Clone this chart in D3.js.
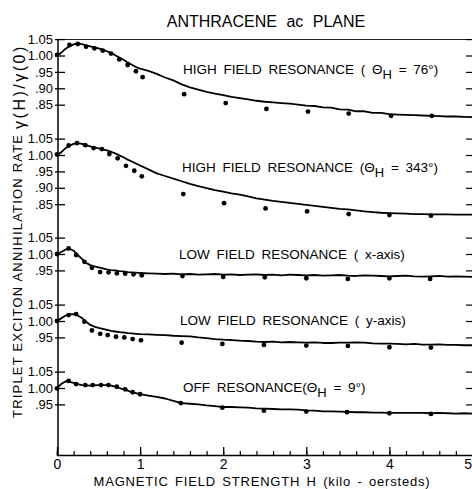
<!DOCTYPE html>
<html>
<head>
<meta charset="utf-8">
<script src="https://d3js.org/d3.v7.min.js"></script>
<style>
  body { margin: 0; background: #fff; }
  svg { display: block; font-family: "Liberation Sans", Arial, sans-serif; }
</style>
</head>
<body>
<svg id="drawing_region"></svg>
<script>
// field strength H (kilo-oersteds) where the traces are read
const fieldH = [0, 0.05, 0.1, 0.15, 0.2, 0.25, 0.3, 0.35, 0.4, 0.45, 0.5, 0.55, 0.6, 0.65, 0.7, 0.75, 0.8, 0.85, 0.9, 0.95, 1.0,
  1.1, 1.2, 1.3, 1.4, 1.5, 1.6, 1.7, 1.8, 1.9, 2.0, 2.1, 2.2, 2.3, 2.4, 2.5, 2.6, 2.7, 2.8, 2.9, 3.0,
  3.1, 3.2, 3.3, 3.4, 3.5, 3.6, 3.7, 3.8, 3.9, 4.0, 4.1, 4.2, 4.3, 4.4, 4.5, 4.6, 4.7, 4.8, 4.9, 5.0];

// measured traces gamma(H)/gamma(0)
const traceHigh76 = [1.000, 1.008, 1.020, 1.028, 1.034, 1.037, 1.035, 1.031, 1.028, 1.025, 1.022, 1.018, 1.013, 1.008, 1.001, .994, .987, .979, .972, .965, .960,
  .953, .944, .933, .924, .912, .903, .896, .889, .884, .879, .874, .870, .866, .862, .859, .857, .855, .853, .850, .847,
  .846, .842, .841, .836, .835, .830, .830, .825, .825, .821, .820, .819, .818, .817, .816, .815, .814, .814, .813, .812];
const traceHigh343 = [1.000, 1.008, 1.020, 1.028, 1.034, 1.036, 1.034, 1.030, 1.026, 1.023, 1.020, 1.017, 1.014, 1.010, 1.005, .999, .993, .986, .980, .974, .968,
  .956, .944, .936, .928, .920, .912, .905, .899, .893, .888, .883, .879, .874, .868, .864, .860, .857, .854, .851, .848,
  .845, .842, .839, .836, .834, .831, .828, .826, .824, .823, .822, .821, .820, .820, .819, .819, .819, .818, .818, .818];
const traceLowX = [1.000, 1.006, 1.013, 1.016, 1.010, .997, .985, .973, .966, .962, .959, .956, .953, .951, .950, .948, .947, .945, .944, .943, .942,
  .941, .940, .939, .940, .938, .939, .937, .938, .939, .937, .938, .936, .937, .938, .936, .937, .935, .937, .936, .935,
  .936, .934, .935, .936, .934, .933, .935, .934, .933, .932, .933, .934, .932, .931, .932, .933, .931, .932, .931, .930];
const traceLowY = [1.000, 1.008, 1.016, 1.020, 1.021, 1.017, 1.009, .998, .988, .983, .979, .976, .973, .970, .968, .966, .965, .963, .962, .961, .960,
  .959, .958, .957, .955, .954, .953, .950, .948, .945, .943, .942, .940, .939, .937, .936, .937, .935, .936, .935, .934,
  .935, .933, .933, .934, .934, .935, .934, .932, .931, .931, .930, .929, .930, .928, .928, .929, .927, .927, .926, .926];
const traceOff9 = [1.000, 1.012, 1.020, 1.019, 1.016, 1.012, 1.009, 1.008, 1.007, 1.008, 1.009, 1.009, 1.009, 1.007, 1.004, 1.000, .996, .992, .987, .984, .981,
  .977, .973, .968, .961, .954, .952, .950, .947, .945, .942, .942, .941, .940, .938, .937, .936, .935, .935, .934, .932,
  .931, .929, .929, .928, .927, .926, .926, .925, .925, .924, .924, .924, .924, .924, .923, .924, .923, .922, .923, .922];

// calculated points
const pointsHigh76H = [0, .15, .25, .35, .45, .55, .65, .75, .85, .95, 1.03, 1.53, 2.03, 2.52, 3.02, 3.51, 4.02, 4.51];
const pointsHigh76 = [1.002, 1.032, 1.035, 1.027, 1.022, 1.015, 1.006, .988, .971, .952, .934, .882, .855, .837, .829, .823, .816, .816];
const pointsHigh343H = [0, .14, .24, .34, .44, .54, .63, .73, .83, .93, 1.02, 1.52, 2.01, 2.51, 3.01, 3.51, 4.00, 4.50];
const pointsHigh343 = [1.002, 1.029, 1.036, 1.030, 1.021, 1.018, 1.003, .990, .967, .952, .935, .881, .853, .837, .828, .820, .817, .815];
const pointsLowXH = [0, .14, .23, .33, .42, .52, .62, .72, .82, .92, 1.02, 1.51, 2.00, 2.50, 3.00, 3.50, 4.00, 4.49];
const pointsLowX = [1.000, 1.017, .997, .976, .958, .945, .944, .941, .940, .938, .935, .933, .930, .929, .926, .924, .926, .924];
const pointsLowYH = [0, .14, .23, .33, .42, .52, .61, .71, .81, .91, 1.01, 1.50, 1.99, 2.49, 3.00, 3.50, 4.00, 4.50];
const pointsLowY = [1.000, 1.018, 1.021, .998, .971, .961, .957, .952, .950, .945, .941, .934, .930, .927, .925, .924, .920, .919];
const pointsOff9H = [0, .14, .23, .34, .43, .53, .62, .72, .82, .91, 1.00, 1.49, 1.99, 2.49, 3.00, 3.49, 4.00, 4.50];
const pointsOff9 = [.999, 1.022, 1.012, 1.009, 1.009, 1.009, 1.009, 1.004, .996, .987, .981, .954, .940, .931, .928, .926, .923, .921];

const panelNames = ["HIGH FIELD RESONANCE ( ", "HIGH FIELD RESONANCE (", "LOW FIELD RESONANCE ( x-axis)", "LOW FIELD RESONANCE ( y-axis)", "OFF RESONANCE("];
const panelAngles = ["76°", "343°", null, null, "9°"];
const panelTicks = [[1.05, 1.00, .95, .90, .85], [1.05, 1.00, .95, .90, .85], [1.05, 1.00, .95], [1.05, 1.00, .95], [1.05, 1.00, .95]];
const fieldTicks = [0, 1, 2, 3, 4, 5];

const panels = [
  { trace: traceHigh76, ptsH: pointsHigh76H, pts: pointsHigh76 },
  { trace: traceHigh343, ptsH: pointsHigh343H, pts: pointsHigh343 },
  { trace: traceLowX, ptsH: pointsLowXH, pts: pointsLowX },
  { trace: traceLowY, ptsH: pointsLowYH, pts: pointsLowY },
  { trace: traceOff9, ptsH: pointsOff9H, pts: pointsOff9 }
].map((p, i) => ({ ...p, name: panelNames[i], angle: panelAngles[i], ticks: panelTicks[i] }));

const config = {
  width: 472, height: 489,
  left: 58, right: 472, top: 40, bottom: 455,
  x0: 57, x5: 472.5,
  base: [55.5, 155, 254, 321, 388],   // pixel row of 1.00 for each trace
  perUnit: 328,
  labelX: [183, 182, 179, 180, 183],
  labelY: [74, 172, 259, 325, 392]
};

const svg = d3.select('#drawing_region')
  .attr('width', config.width)
  .attr('height', config.height);

const x = d3.scaleLinear().domain([0, 5]).range([config.x0, config.x5]);

const fmt = v => v >= 1 ? v.toFixed(2) : v.toFixed(2).slice(1);

// title
svg.append('text')
  .attr('x', 266).attr('y', 27)
  .attr('text-anchor', 'middle')
  .style('font-size', '16px')
  .style('word-spacing', '5px')
  .text('ANTHRACENE ac PLANE');

// frame: left axis and top line
svg.append('line')
  .attr('x1', config.left).attr('x2', config.left)
  .attr('y1', config.top).attr('y2', config.bottom)
  .attr('stroke', '#000').attr('stroke-width', 1.5);
svg.append('line')
  .attr('x1', config.left).attr('x2', config.right)
  .attr('y1', config.top - 0.5).attr('y2', config.top - 0.5)
  .attr('stroke', '#222').attr('stroke-width', 1.2);

// bottom axis, minor then major
svg.append('g')
  .attr('transform', `translate(0, ${config.bottom})`)
  .call(d3.axisBottom(x).tickValues(d3.range(0, 5.01, 0.2)).tickSize(-4).tickFormat(''))
  .call(g => g.select('.domain').attr('stroke-width', 1.5))
  .call(g => g.selectAll('.tick line').attr('stroke-width', 1.2));

svg.append('g')
  .attr('transform', `translate(0, ${config.bottom})`)
  .call(d3.axisBottom(x).tickValues(fieldTicks).tickSize(-8).tickPadding(4).tickFormat(d3.format('d')))
  .call(g => g.select('.domain').remove())
  .call(g => g.selectAll('.tick line').attr('stroke-width', 1.3))
  .call(g => g.selectAll('.tick text')
    .style('font-family', '"Liberation Sans", Arial, sans-serif')
    .style('font-size', '14px')
    .attr('fill', '#000'))
  // the last label sits at the page edge, keep it inside
  .call(g => g.selectAll('.tick text').filter(d => d === 5)
    .attr('text-anchor', 'end').attr('dx', -1));

const line = d3.line()
  .x(d => x(d.h))
  .y(d => d.y);

panels.forEach((p, i) => {
  const b = config.base[i];
  const y = d3.scaleLinear().domain([1, 1.05]).range([b, b - 0.05 * config.perUnit]);

  // left ticks, crossing the axis
  svg.append('g')
    .attr('transform', `translate(${config.left}, 0)`)
    .call(d3.axisLeft(y).tickValues(p.ticks).tickSize(3).tickPadding(2).tickFormat(fmt))
    .call(g => g.select('.domain').remove())
    .call(g => g.selectAll('.tick line').attr('x1', 7).attr('x2', -3).attr('stroke-width', 1.3))
    .call(g => g.selectAll('.tick text')
      .style('font-family', '"Liberation Sans", Arial, sans-serif')
      .style('font-size', '13px')
      .attr('fill', '#000'));

  // right ticks
  svg.append('g')
    .attr('transform', `translate(${config.right}, 0)`)
    .call(d3.axisRight(y).tickValues(p.ticks).tickSize(-6).tickFormat(''))
    .call(g => g.select('.domain').remove())
    .call(g => g.selectAll('.tick line').attr('stroke-width', 1.2));

  const trace = fieldH.map((h, k) => ({ h: h, y: y(p.trace[k]) }));
  svg.append('path')
    .datum(trace)
    .attr('d', line)
    .attr('fill', 'none')
    .attr('stroke', '#000')
    .attr('stroke-width', 1.8)
    .attr('stroke-linejoin', 'round');

  svg.append('g')
    .selectAll('circle')
    .data(p.ptsH.map((h, k) => ({ h: h, v: p.pts[k] })))
    .join('circle')
    .attr('cx', d => x(d.h))
    .attr('cy', d => y(d.v))
    .attr('r', 2.4)
    .attr('fill', '#000');

  const label = svg.append('text')
    .attr('x', config.labelX[i]).attr('y', config.labelY[i])
    .style('font-size', '13.5px')
    .style('word-spacing', '3px')
    .text(p.name);
  if (p.angle) {
    label.append('tspan').text('Θ');
    label.append('tspan').attr('dy', 5).style('font-size', '13px').text('H');
    label.append('tspan').attr('dy', -5).text(' = ' + p.angle + ')');
  }
});

// axis titles
svg.append('text')
  .attr('x', 262).attr('y', 486)
  .attr('text-anchor', 'middle')
  .style('font-size', '13px')
  .style('letter-spacing', '0.8px')
  .style('word-spacing', '2px')
  .text('MAGNETIC FIELD STRENGTH H (kilo - oersteds)');

const ylab = svg.append('text')
  .attr('transform', 'translate(22, 418) rotate(-90)')
  .style('font-size', '13px')
  .style('letter-spacing', '1.2px')
  .text('TRIPLET EXCITON ANNIHILATION RATE ');
ylab.append('tspan')
  .attr('dy', 3)
  .style('font-size', '16px')
  .style('letter-spacing', '2.5px')
  .text('γ(H)/γ(0)');
</script>
</body>
</html>
